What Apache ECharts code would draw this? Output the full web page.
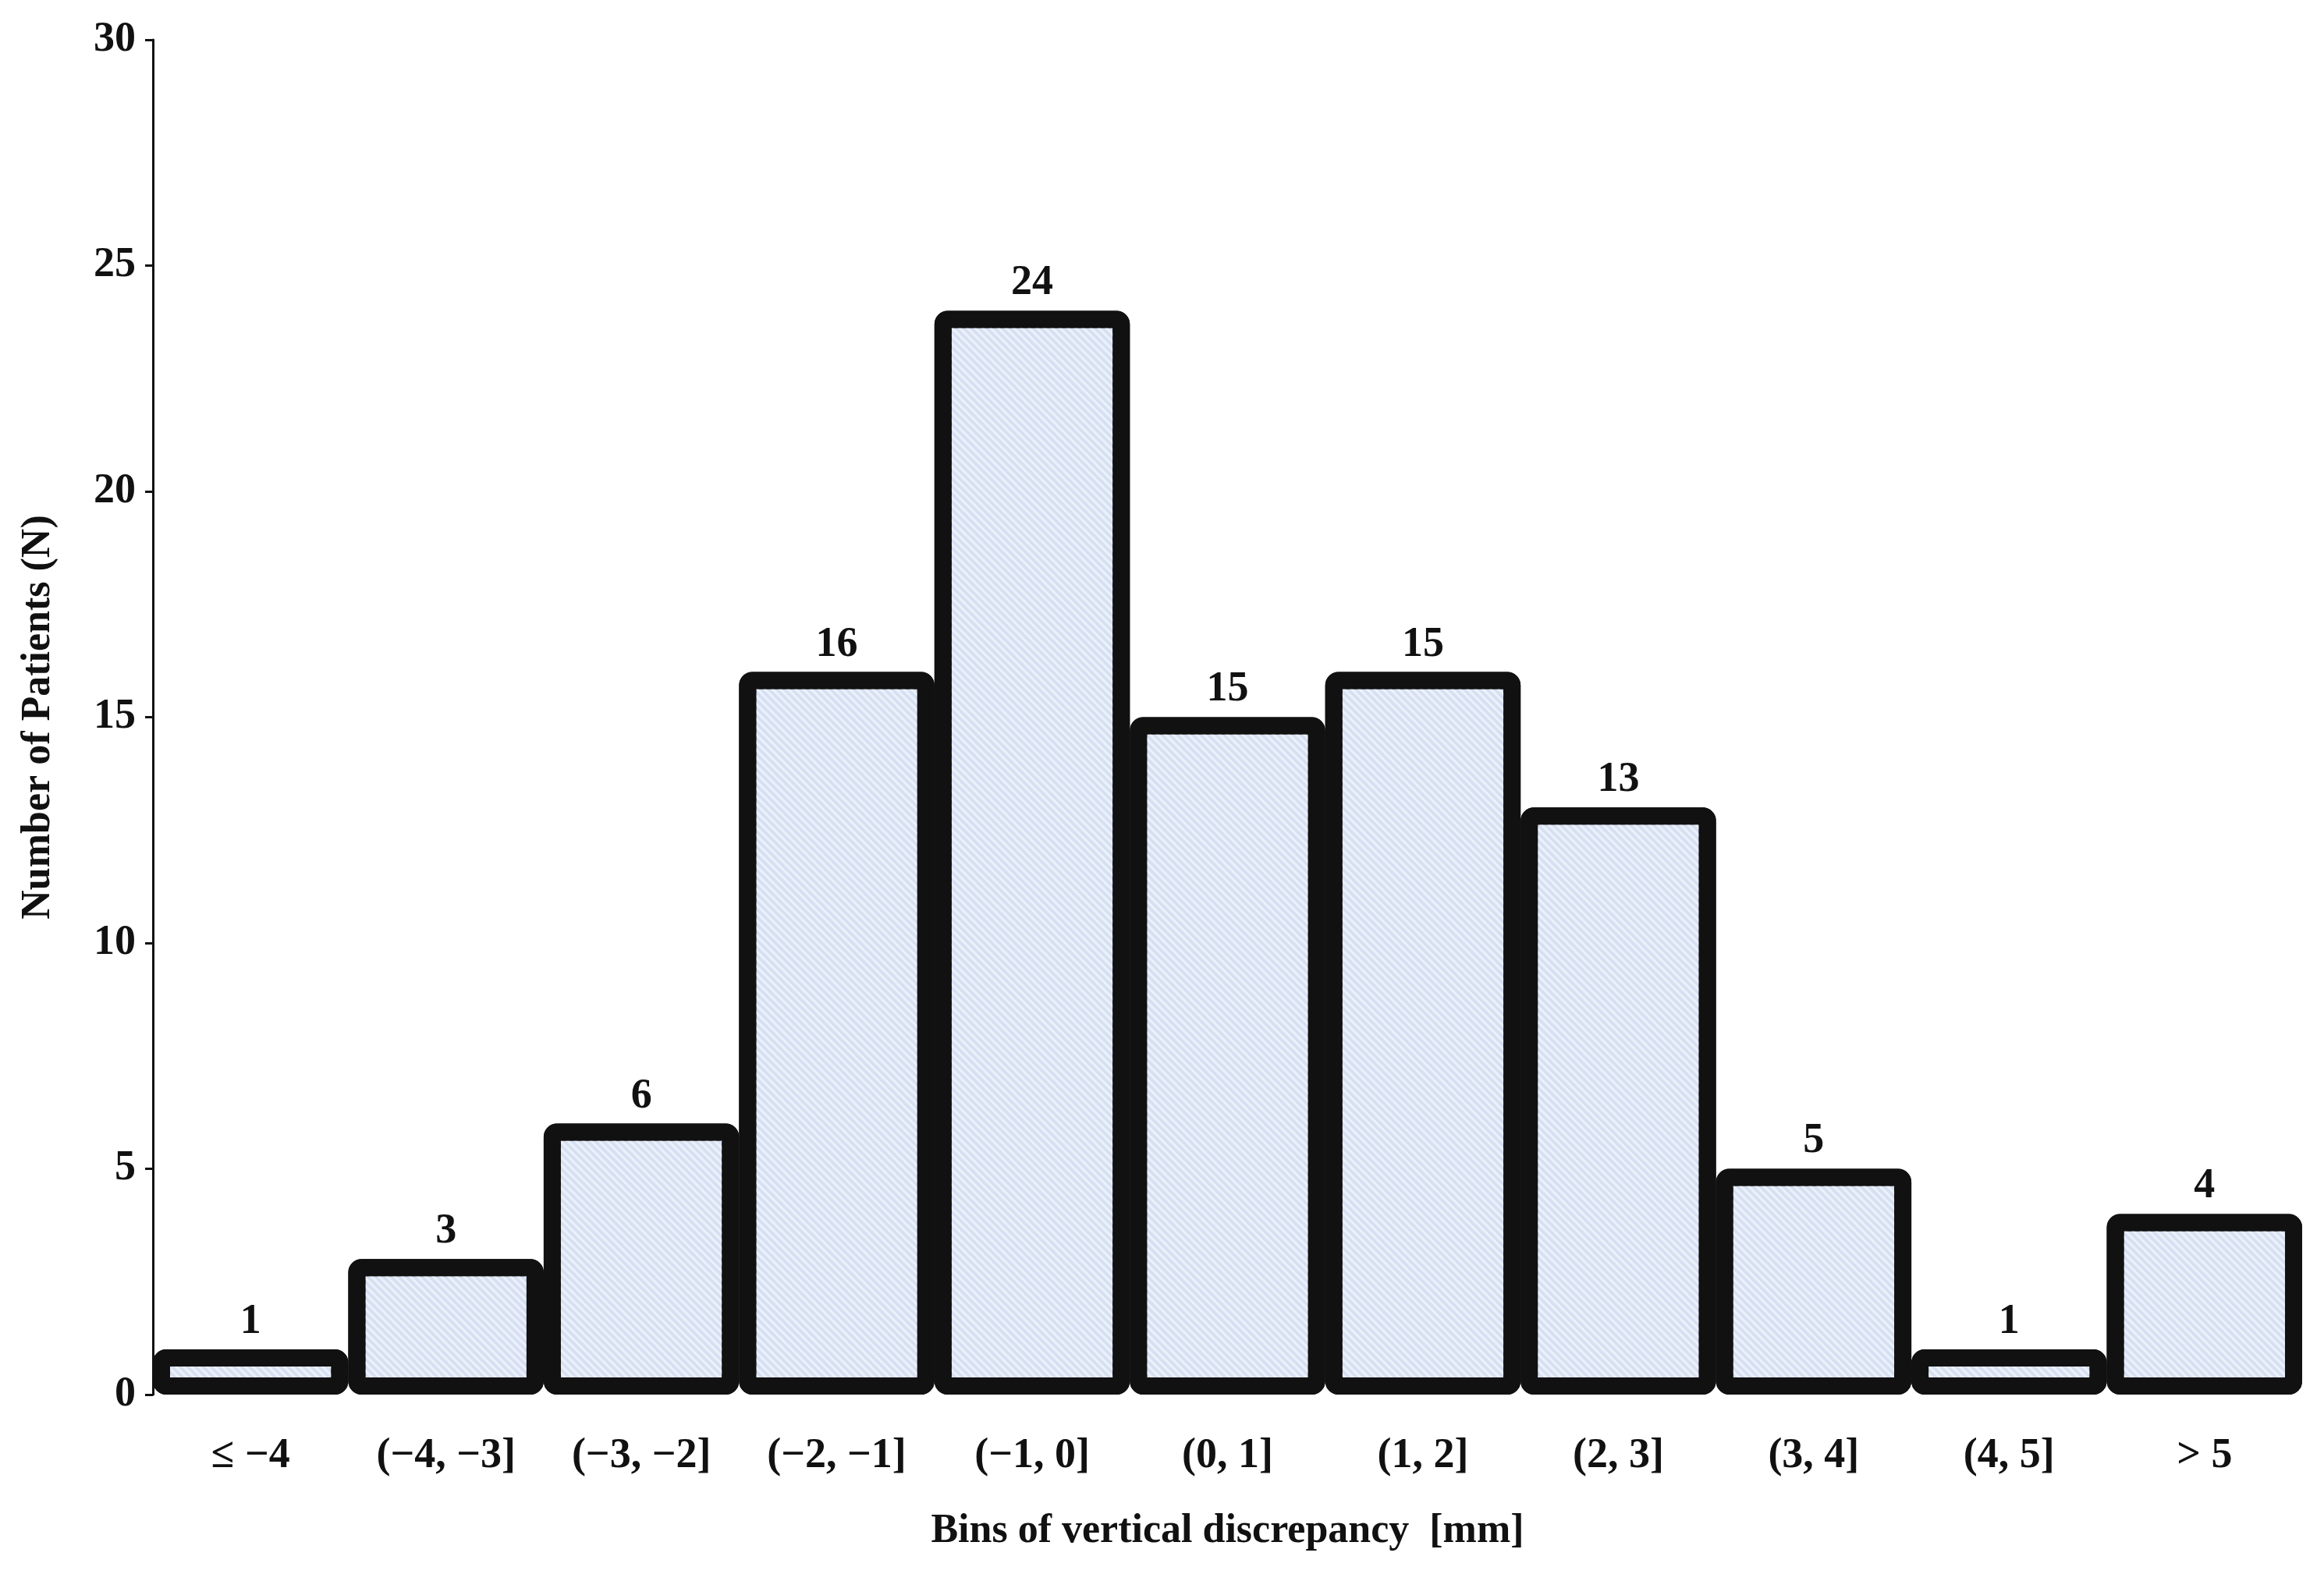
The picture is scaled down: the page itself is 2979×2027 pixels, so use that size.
<!DOCTYPE html>
<html>
<head>
<meta charset="utf-8">
<script src="https://cdn.jsdelivr.net/npm/echarts@6/dist/echarts.min.js"></script>
<style>html,body{margin:0;background:#fff}#main{width:2979px;height:2027px}</style>
</head>
<body>
<div id="main"></div>
<script>
// 分组与人数
var categories = ['\u2264 \u22124', '(\u22124, \u22123]', '(\u22123, \u22122]', '(\u22122, \u22121]', '(\u22121, 0]', '(0, 1]', '(1, 2]', '(2, 3]', '(3, 4]', '(4, 5]', '> 5'];
var counts = [1, 3, 6, 16, 24, 15, 16, 13, 5, 1, 4];
var countLabels = ['1', '3', '6', '16', '24', '15', '15', '13', '5', '1', '4'];
var yTicks = [0, 5, 10, 15, 20, 25, 30];

var font = 'Liberation Serif';
var myChart = echarts.init(document.getElementById('main'));

var option = {
	backgroundColor: '#fff',
	grid: { left: 196, right: 28, top: 51, bottom: 239 },
	xAxis: {
		type: 'category',
		data: categories,
		axisLine: { show: false },
		axisTick: { show: false },
		axisLabel: { color: '#111', fontFamily: font, fontWeight: 'bold', fontSize: 54, margin: 52 },
		name: 'Bins of vertical discrepancy  [mm]',
		nameLocation: 'middle',
		nameGap: 150,
		nameTextStyle: { color: '#111', fontFamily: font, fontWeight: 'bold', fontSize: 52 }
	},
	yAxis: {
		type: 'value',
		min: 0,
		max: 30,
		interval: 5,
		splitLine: { show: false },
		axisLine: { show: true, lineStyle: { color: '#111', width: 3 } },
		axisTick: { show: true, length: 10, lineStyle: { color: '#111', width: 3 } },
		axisLabel: {
			color: '#111', fontFamily: font, fontWeight: 'bold', fontSize: 54, margin: 22,
			formatter: function (v) { return yTicks.indexOf(v) >= 0 ? String(v) : ''; }
		},
		name: 'Number of Patients (N)',
		nameLocation: 'middle',
		nameGap: 120,
		nameTextStyle: { color: '#111', fontFamily: font, fontWeight: 'bold', fontSize: 52 }
	},
	series: [{
		type: 'bar',
		data: counts,
		barCategoryGap: '0%',
		itemStyle: {
			color: '#d6e0f3',
			borderColor: '#111',
			borderWidth: 22,
			borderRadius: 6,
			decal: {
				symbol: 'rect',
				color: 'rgba(255,255,255,0.55)',
				dashArrayX: [1, 0],
				dashArrayY: [3, 4],
				rotation: Math.PI / 4
			}
		},
		label: {
			show: true,
			position: 'top',
			distance: 8,
			color: '#111',
			fontFamily: font,
			fontWeight: 'bold',
			fontSize: 54,
			formatter: function (p) { return countLabels[p.dataIndex]; }
		}
	}]
};

myChart.setOption(option);
</script>
</body>
</html>
